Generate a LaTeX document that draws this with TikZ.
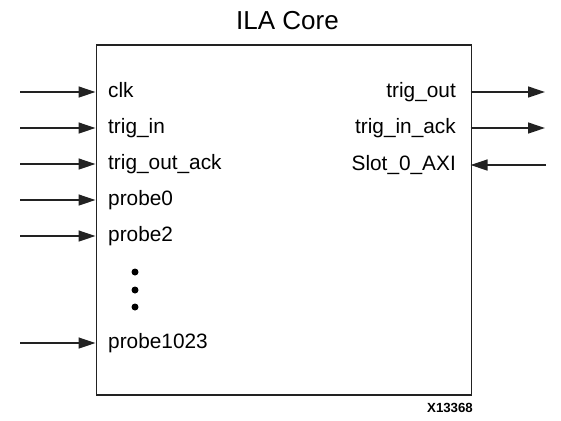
\documentclass[tikz,border=0pt]{standalone}
\usepackage{fontspec}
\setmainfont{Liberation Sans}
\usetikzlibrary{arrows.meta}
\definecolor{linec}{HTML}{222222}
\tikzset{
  lbl/.style={inner sep=0pt, font=\fontsize{20.9}{25}\selectfont},
  sig/.style={draw=linec, line width=1.3bp, -{Triangle[length=17bp,width=11bp]}},
  dotc/.style={circle, fill=black, inner sep=0pt, minimum size=7bp}
}
\begin{document}
\begin{tikzpicture}[x=1bp,y=-1bp]
\useasboundingbox (0,0) rectangle (561,420);
% core box
\node[draw=linec, line width=1.5bp, minimum width=375bp, minimum height=350bp, inner sep=0pt, anchor=north west] (core) at (95.5,44) {};
\node[inner sep=0pt, anchor=base, font=\fontsize{26.1}{30}\selectfont] (title) at (287.5,29) {ILA Core};
\node[inner sep=0pt, anchor=base, font=\bfseries\fontsize{13.3}{16}\selectfont] (xnum) at (450,412.7) {X13368};
% left inputs
\foreach \n/\t/\y in {clk/clk/92, tin/trig\_in/128, toa/trig\_out\_ack/164, p0/probe0/200, p2/probe2/236, p1023/probe1023/343}{
  \node[lbl, anchor=base west] (\n) at (108,\y+5.7) {\t};
  \coordinate (s\n) at (20,\y);
  \coordinate (e\n) at (95.5,\y);
  \draw[sig] (s\n) -- (e\n);
}
% right outputs
\foreach \n/\t/\y in {tout/trig\_out/92, tia/trig\_in\_ack/128}{
  \node[lbl, anchor=base east] (\n) at (456,\y+5.7) {\t};
  \coordinate (s\n) at (470.5,\y);
  \coordinate (e\n) at (545,\y);
  \draw[sig] (s\n) -- (e\n);
}
\node[lbl, anchor=base east] (axi) at (456,165+5.7) {Slot\_0\_AXI};
\coordinate (saxi) at (546,165);
\coordinate (eaxi) at (470.5,165);
\draw[sig] (saxi) -- (eaxi);
% dots
\node[dotc] (d1) at (135,272) {};
\node[dotc] (d2) at (135,290) {};
\node[dotc] (d3) at (135,307) {};
\end{tikzpicture}
\end{document}
